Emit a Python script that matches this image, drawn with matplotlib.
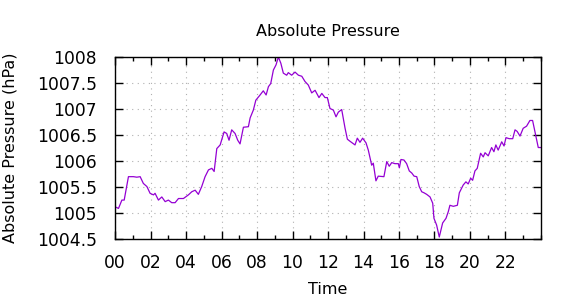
import matplotlib
matplotlib.use('Agg')
import matplotlib.pyplot as plt
from matplotlib.ticker import MultipleLocator

# hours since midnight and pressure readings (hPa)
hours = [0.00, 0.19, 0.38, 0.51, 0.75, 1.03, 1.22, 1.41, 1.59, 1.79,
         1.97, 2.16, 2.25, 2.44, 2.63, 2.82, 3.00, 3.19, 3.38, 3.57,
         3.85, 4.13, 4.32, 4.51, 4.69, 4.88, 5.07, 5.26, 5.45, 5.58,
         5.73, 5.92, 6.14, 6.29, 6.42, 6.57, 6.76, 6.91, 7.04, 7.23,
         7.51, 7.61, 7.79, 7.93, 8.17, 8.35, 8.51, 8.64, 8.77, 8.92,
         9.07, 9.20, 9.34, 9.48, 9.67, 9.76, 9.95, 10.14, 10.33, 10.52,
         10.70, 10.89, 11.08, 11.27, 11.49, 11.65, 11.83, 11.96, 12.11, 12.30,
         12.45, 12.58, 12.77, 12.96, 13.09, 13.24, 13.52, 13.65, 13.80, 13.95,
         14.14, 14.27, 14.46, 14.55, 14.70, 14.83, 15.15, 15.31, 15.45, 15.59,
         15.77, 15.96, 16.02, 16.11, 16.28, 16.43, 16.58, 16.72, 16.85, 17.00,
         17.14, 17.28, 17.41, 17.56, 17.75, 17.90, 17.97, 18.12, 18.27, 18.46,
         18.65, 18.78, 18.87, 19.06, 19.29, 19.40, 19.62, 19.77, 19.90, 20.04,
         20.15, 20.28, 20.41, 20.60, 20.75, 20.85, 21.03, 21.22, 21.35, 21.46,
         21.59, 21.79, 21.92, 22.03, 22.21, 22.41, 22.54, 22.66, 22.82, 23.00,
         23.19, 23.38, 23.53, 23.66, 23.85, 23.99]
pressure = [1005.12, 1005.09, 1005.25, 1005.25, 1005.70, 1005.70, 1005.69, 1005.70, 1005.57, 1005.51,
            1005.38, 1005.35, 1005.38, 1005.25, 1005.31, 1005.22, 1005.25, 1005.20, 1005.20, 1005.28,
            1005.28, 1005.35, 1005.41, 1005.44, 1005.36, 1005.51, 1005.70, 1005.83, 1005.86, 1005.80,
            1006.24, 1006.31, 1006.56, 1006.53, 1006.40, 1006.60, 1006.53, 1006.40, 1006.33, 1006.65,
            1006.66, 1006.83, 1006.98, 1007.17, 1007.27, 1007.35, 1007.27, 1007.43, 1007.49, 1007.75,
            1007.85, 1008.00, 1007.88, 1007.69, 1007.65, 1007.70, 1007.65, 1007.71, 1007.65, 1007.63,
            1007.53, 1007.46, 1007.31, 1007.36, 1007.22, 1007.30, 1007.22, 1007.22, 1007.01, 1006.98,
            1006.85, 1006.94, 1006.99, 1006.63, 1006.42, 1006.38, 1006.31, 1006.44, 1006.36, 1006.44,
            1006.35, 1006.21, 1005.92, 1005.96, 1005.62, 1005.71, 1005.70, 1005.99, 1005.90, 1005.97,
            1005.95, 1005.95, 1005.87, 1006.03, 1006.02, 1005.95, 1005.81, 1005.77, 1005.71, 1005.70,
            1005.51, 1005.41, 1005.39, 1005.36, 1005.31, 1005.19, 1004.90, 1004.77, 1004.54, 1004.81,
            1004.90, 1005.03, 1005.15, 1005.13, 1005.15, 1005.39, 1005.54, 1005.60, 1005.56, 1005.67,
            1005.63, 1005.81, 1005.86, 1006.15, 1006.08, 1006.16, 1006.10, 1006.26, 1006.18, 1006.31,
            1006.21, 1006.37, 1006.29, 1006.45, 1006.43, 1006.43, 1006.60, 1006.57, 1006.48, 1006.63,
            1006.67, 1006.78, 1006.78, 1006.57, 1006.26, 1006.26]

tick_hours = list(range(0, 24, 2))
tick_labels = ['%02d' % h for h in tick_hours]

plt.rcParams['font.family'] = ['DejaVu Sans']

fig = plt.figure(figsize=(5.7, 3.0), dpi=100)
ax = fig.add_axes([0.202, 0.203, 0.747, 0.607])

ax.plot(hours, pressure, color='#9400D3', linewidth=0.9)

ax.set_xlim(0, 24)
ax.set_ylim(1004.5, 1008)
ax.set_xticks(tick_hours)
ax.set_xticklabels(tick_labels)
ax.xaxis.set_minor_locator(MultipleLocator(1))
ax.yaxis.set_major_locator(MultipleLocator(0.5))
ax.yaxis.set_major_formatter(plt.FuncFormatter(lambda v, p: ('%g' % v)))

ax.tick_params(which='both', direction='in', top=True, right=True,
               labelsize=12.3, width=1.0)
ax.tick_params(axis='y', pad=13)
ax.tick_params(axis='x', pad=11)
ax.tick_params(which='major', length=6)
ax.tick_params(which='minor', length=3)

ax.grid(True, which='major', linestyle=(0, (1, 4)), color='#b0b0b0', linewidth=0.8)
for s in ax.spines.values():
    s.set_linewidth(1.0)

ax.set_title('Absolute Pressure', fontsize=11.5, pad=15)
ax.set_xlabel('Time', fontsize=11.5, labelpad=7)
ax.set_ylabel('Absolute Pressure (hPa)', fontsize=11.5, labelpad=14)

fig.savefig('out.png', dpi=100)
